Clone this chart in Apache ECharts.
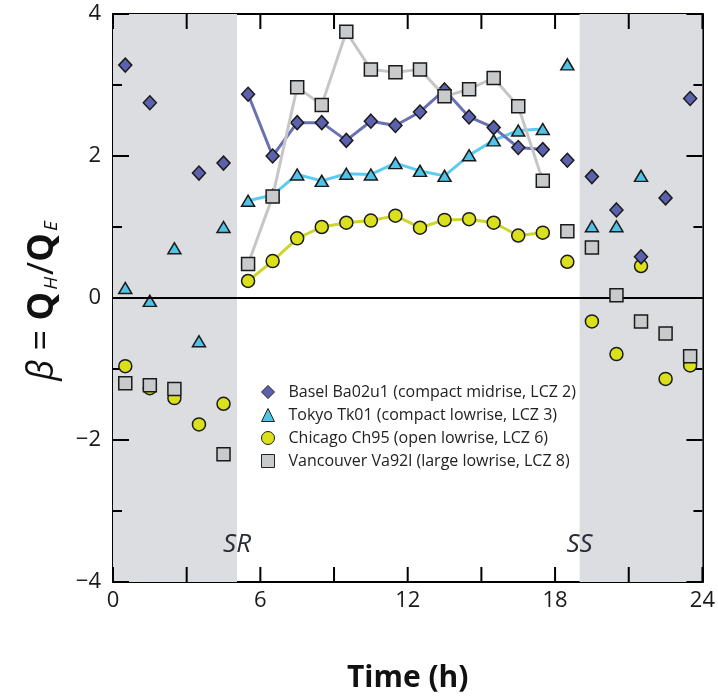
<!DOCTYPE html>
<html>
<head>
<meta charset="utf-8">
<script src="https://cdn.jsdelivr.net/npm/echarts@6/dist/echarts.min.js"></script>
<style>
  html, body { margin: 0; padding: 0; background: #fff; }
  #chart { width: 718px; height: 698px; }
</style>
</head>
<body>
<div id="chart"></div>
<script>
// ---- Data ----
const hours = [0.5,1.5,2.5,3.5,4.5,5.5,6.5,7.5,8.5,9.5,10.5,11.5,12.5,13.5,14.5,15.5,16.5,17.5,18.5,19.5,20.5,21.5,22.5,23.5];
const basel =     [3.28, 2.75, null, 1.76, 1.90, 2.87, 2.00, 2.47, 2.47, 2.22, 2.49, 2.43, 2.62, 2.93, 2.55, 2.40, 2.12, 2.09, 1.94, 1.71, 1.24, 0.58, 1.41, 2.81];
const tokyo =     [0.14, -0.04, 0.70, -0.61, 1.00, 1.37, 1.45, 1.74, 1.65, 1.75, 1.74, 1.90, 1.79, 1.72, 2.01, 2.22, 2.36, 2.38, 3.29, 1.01, 1.01, 1.72, null, null];
const chicago =   [-0.96, -1.27, -1.41, -1.78, -1.49, 0.24, 0.52, 0.84, 1.00, 1.06, 1.09, 1.16, 0.99, 1.10, 1.11, 1.06, 0.88, 0.92, 0.51, -0.33, -0.79, 0.45, -1.14, -0.95];
const vancouver = [-1.20, -1.23, -1.28, null, -2.20, 0.48, 1.43, 2.97, 2.72, 3.75, 3.22, 3.18, 3.22, 2.84, 2.94, 3.10, 2.70, 1.65, 0.94, 0.71, 0.04, -0.33, -0.50, -0.82];
const siteNames = [
  'Basel Ba02u1 (compact midrise, LCZ 2)',
  'Tokyo Tk01 (compact lowrise, LCZ 3)',
  'Chicago Ch95 (open lowrise, LCZ 6)',
  'Vancouver Va92l (large lowrise, LCZ 8)'
];
const dayStart = 5.5, dayEnd = 17.5;       // connected daytime hours
const sunrise = 5.05, sunset = 19.0;        // SR / SS (h)
const xLabelTicks = [0, 6, 12, 18, 24];
const xTickHours = [0, 3, 6, 9, 12, 15, 18, 21, 24];
const yLabelTicks = [-4, -2, 0, 2, 4];
const yTickVals = [-4, -3, -2, -1, 0, 1, 2, 3, 4];

// ---- Styles ----
const FONT = '"Open Sans", "Noto Sans", sans-serif';
const TICK = { stroke: '#000', lineWidth: 2 };
const sites = [
  { name: siteNames[2], vals: chicago,   symbol: 'circle',   size: 13,       fill: '#dbe01c', line: '#cdd62c' },
  { name: siteNames[1], vals: tokyo,     symbol: 'triangle', size: [13, 11], fill: '#4fc4e8', line: '#5ccbf2' },
  { name: siteNames[0], vals: basel,     symbol: 'diamond',  size: [13, 14], fill: '#5b61ac', line: '#6a70b6' },
  { name: siteNames[3], vals: vancouver, symbol: 'rect',     size: 13,       fill: '#c9cacc', line: '#c6c6c6' }
];

function pairs(vals, day) {
  const out = [];
  hours.forEach((h, i) => {
    if (vals[i] === null) return;
    const isDay = h >= dayStart && h <= dayEnd;
    if (isDay === day) out.push([h, vals[i]]);
  });
  return out;
}

const series = [];
// night shading + zero line
series.push({
  type: 'line', data: [], z: 0, silent: true,
  markArea: {
    silent: true,
    itemStyle: { color: '#dcdde0' },
    data: [[{ xAxis: 0 }, { xAxis: sunrise }], [{ xAxis: sunset }, { xAxis: 24 }]]
  },
  markLine: {
    silent: true, symbol: 'none', label: { show: false },
    lineStyle: { color: '#000', width: 2, type: 'solid' },
    data: [{ yAxis: 0 }]
  }
});
// inward tick marks on all four sides, placed through the axes' scales
series.push({
  type: 'custom', z: 2, silent: true, clip: false,
  data: xTickHours.map(h => [h, -4]),
  renderItem: (params, api) => {
    const h = api.value(0);
    const b = api.coord([h, -4]);
    const t = api.coord([h, 4]);
    return { type: 'group', children: [
      { type: 'line', shape: { x1: b[0], y1: b[1], x2: b[0], y2: b[1] - 15 }, style: TICK },
      { type: 'line', shape: { x1: t[0], y1: t[1], x2: t[0], y2: t[1] + 15 }, style: TICK }
    ] };
  }
});
series.push({
  type: 'custom', z: 2, silent: true, clip: false,
  data: yTickVals.map(v => [0, v]),
  renderItem: (params, api) => {
    const v = api.value(1);
    const len = (yLabelTicks.indexOf(v) >= 0) ? 16 : 9;
    const l = api.coord([0, v]);
    const r = api.coord([24, v]);
    return { type: 'group', children: [
      { type: 'line', shape: { x1: l[0], y1: l[1], x2: l[0] + len, y2: l[1] }, style: TICK },
      { type: 'line', shape: { x1: r[0], y1: r[1], x2: r[0] - len, y2: r[1] }, style: TICK }
    ] };
  }
});
// SR / SS labels
series.push({
  type: 'scatter', z: 1, silent: true, symbolSize: 1,
  itemStyle: { color: 'transparent', opacity: 1 },
  data: [{ value: [sunrise, -3.48], name: 'SR' }, { value: [sunset, -3.48], name: 'SS' }],
  label: {
    show: true, position: 'inside', formatter: p => p.name,
    fontFamily: FONT, fontStyle: 'italic', fontSize: 26, color: '#2a2c36', opacity: 1
  }
});
sites.forEach((s, k) => {
  const itemStyle = { color: s.fill, borderColor: '#1a1a1a', borderWidth: 1.5, opacity: 1 };
  series.push({
    name: s.name, type: 'line', z: 3 + k,
    data: pairs(s.vals, true),
    symbol: s.symbol, symbolSize: s.size, showSymbol: true,
    lineStyle: { color: s.line, width: 3 },
    itemStyle: itemStyle,
    emphasis: { disabled: true }, animation: false
  });
  series.push({
    name: s.name, type: 'scatter', z: 3 + k,
    data: pairs(s.vals, false),
    symbol: s.symbol, symbolSize: s.size,
    itemStyle: itemStyle,
    emphasis: { disabled: true }, animation: false
  });
});

const axisLineStyle = { show: true, lineStyle: { color: '#000', width: 2 } };
const option = {
  animation: false,
  backgroundColor: '#fff',
  grid: { left: 113, right: 10, top: 14, bottom: 114, containLabel: false },
  legend: {
    orient: 'vertical', left: 256, top: 379,
    itemWidth: 13, itemHeight: 13, itemGap: 7,
    itemStyle: { borderColor: '#222', borderWidth: 1 },
    textStyle: { fontFamily: FONT, fontSize: 16, color: '#222', padding: [0, 0, 0, 9] },
    data: [
      { name: siteNames[0], icon: 'diamond' },
      { name: siteNames[1], icon: 'triangle' },
      { name: siteNames[2], icon: 'circle' },
      { name: siteNames[3], icon: 'rect' }
    ],
    selectedMode: false
  },
  xAxis: [
    {
      type: 'value', min: 0, max: 24, interval: 6, position: 'bottom',
      axisLine: { ...axisLineStyle, onZero: false },
      axisTick: { show: false },
      axisLabel: {
        fontFamily: FONT, fontSize: 22, color: '#1a1a1a', margin: 8,
        formatter: v => (xLabelTicks.indexOf(v) >= 0 ? String(v) : '')
      },
      splitLine: { show: false },
      name: 'Time (h)', nameLocation: 'middle', nameGap: 81,
      nameTextStyle: { fontFamily: FONT, fontSize: 30, fontWeight: 'bold', color: '#111' }
    },
    {
      type: 'value', min: 0, max: 24, interval: 6, position: 'top',
      axisLine: { ...axisLineStyle, onZero: false },
      axisTick: { show: false },
      axisLabel: { show: false }, splitLine: { show: false }
    }
  ],
  yAxis: [
    {
      type: 'value', min: -4, max: 4, interval: 2, position: 'left',
      axisLine: { ...axisLineStyle, onZero: false },
      axisTick: { show: false },
      axisLabel: {
        fontFamily: FONT, fontSize: 22, color: '#1a1a1a', margin: 12,
        formatter: v => (yLabelTicks.indexOf(v) >= 0 ? (v < 0 ? '\u2212' + Math.abs(v) : String(v)) : '')
      },
      splitLine: { show: false }
    },
    {
      type: 'value', min: -4, max: 4, interval: 2, position: 'right',
      axisLine: { ...axisLineStyle, onZero: false },
      axisTick: { show: false },
      axisLabel: { show: false }, splitLine: { show: false }
    }
  ],
  graphic: [{
    type: 'text', x: 43, y: 300, rotation: Math.PI / 2, silent: true,
    style: {
      text: '{b|\u03B2}{n| = }{q|Q}{s|H}{n|/}{q|Q}{s|E}',
      align: 'center', verticalAlign: 'middle',
      fill: '#111', fontFamily: FONT,
      rich: {
        b: { fontFamily: FONT, fontSize: 36, fontStyle: 'italic', fill: '#111', color: '#111' },
        n: { fontFamily: FONT, fontSize: 36, fill: '#111', color: '#111' },
        q: { fontFamily: FONT, fontSize: 36, fontWeight: 'bold', fill: '#111', color: '#111' },
        s: { fontFamily: FONT, fontSize: 19, fontStyle: 'italic', verticalAlign: 'bottom', fill: '#111', color: '#111', padding: [0, 2, 0, 2] }
      }
    }
  }],
  series: series
};

const chart = echarts.init(document.getElementById('chart'), null, { renderer: 'canvas' });
chart.setOption(option);
</script>
</body>
</html>
